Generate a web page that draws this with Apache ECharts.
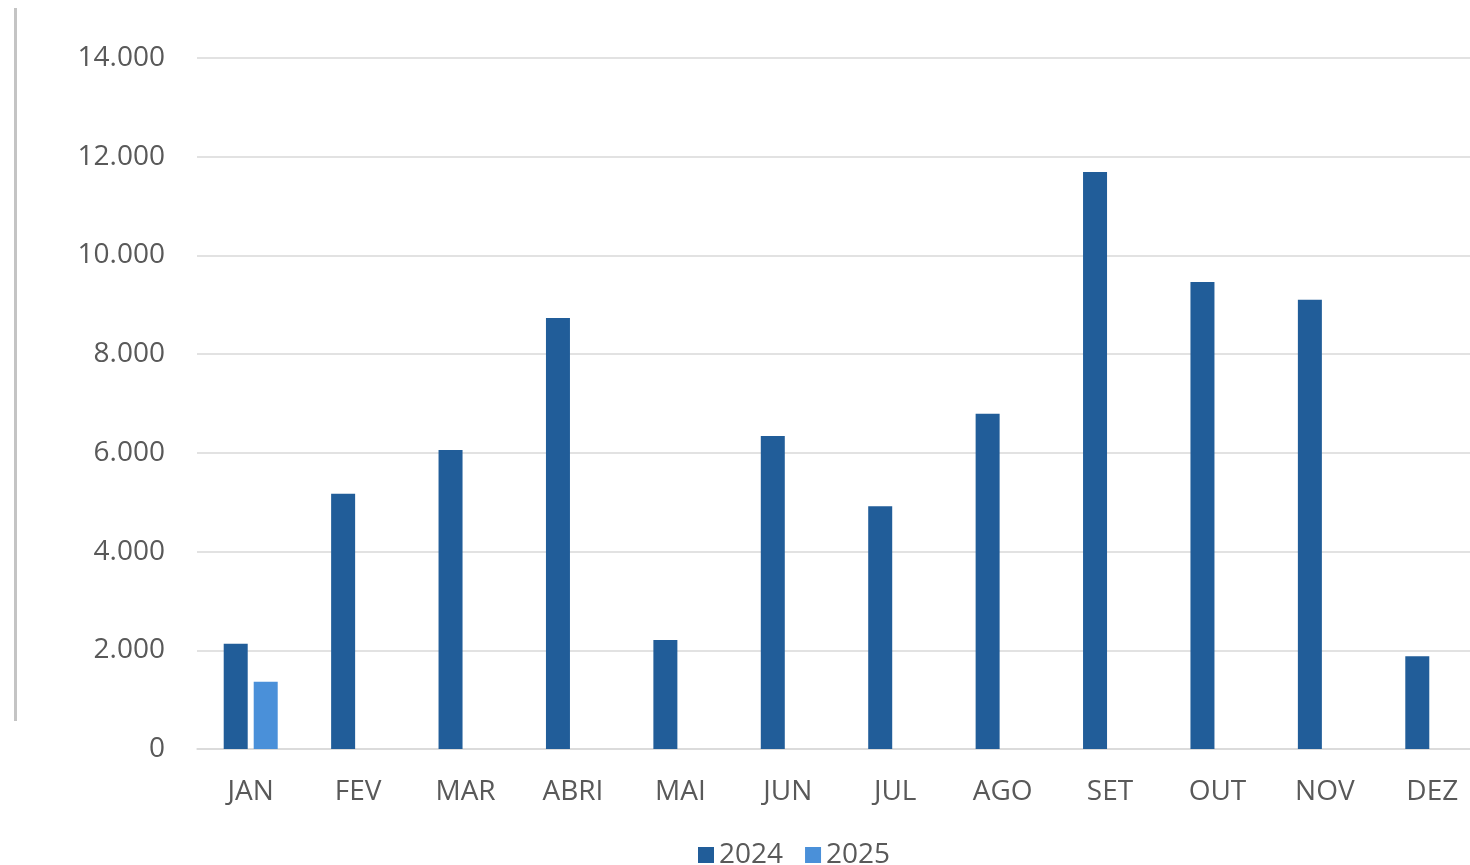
<!DOCTYPE html>
<html>
<head>
<meta charset="utf-8">
<script src="https://cdn.jsdelivr.net/npm/echarts@6/dist/echarts.min.js"></script>
<style>
html,body{margin:0;padding:0;background:#fff;}
#c{width:1470px;height:865px;}
</style>
</head>
<body>
<div id="c"></div>
<script>
const categories = ['JAN','FEV','MAR','ABRI','MAI','JUN','JUL','AGO','SET','OUT','NOV','DEZ'];
const values2024 = [2130,5170,6060,8730,2210,6340,4920,6790,11690,9460,9100,1880];
const values2025 = [1360,null,null,null,null,null,null,null,null,null,null,null];
const seriesNames = ['2024','2025'];

const chart = echarts.init(document.getElementById('c'));
const font = 'Open Sans';
chart.setOption({
  animation:false,
  backgroundColor:'#fff',
  grid:{left:197,width:1289,top:58,height:691,outerBoundsMode:'none',containLabel:false},
  legend:{
    data:seriesNames,
    top:836,left:693,
    itemWidth:16,itemHeight:16,itemGap:22,
    icon:'rect',
    textStyle:{fontFamily:font,fontSize:28,color:'#595959',padding:[0,0,0,0]}
  },
  xAxis:{
    type:'category',data:categories,
    axisLine:{show:true,lineStyle:{color:'#d9d9d9',width:1.5}},
    axisTick:{show:false},
    axisLabel:{fontFamily:font,fontSize:28,color:'#595959',margin:29}
  },
  yAxis:{
    type:'value',min:0,max:14000,interval:2000,
    axisLine:{show:false},axisTick:{show:false},
    splitLine:{lineStyle:{color:'#d9d9d9',width:1.5}},
    axisLabel:{fontFamily:font,fontSize:28,color:'#595959',margin:32,
      formatter:v=>v===0?'0':v.toLocaleString('de-DE')}
  },
  graphic:[{type:'rect',shape:{x:14,y:8,width:3,height:713},style:{fill:'#c4c4c4'},silent:true}],
  series:[
    {name:seriesNames[0],type:'bar',data:values2024,barWidth:24,barGap:'25%',itemStyle:{color:'#215D99'}},
    {name:seriesNames[1],type:'bar',data:values2025,barWidth:24,itemStyle:{color:'#4A90D9'}}
  ]
});
</script>
</body>
</html>
